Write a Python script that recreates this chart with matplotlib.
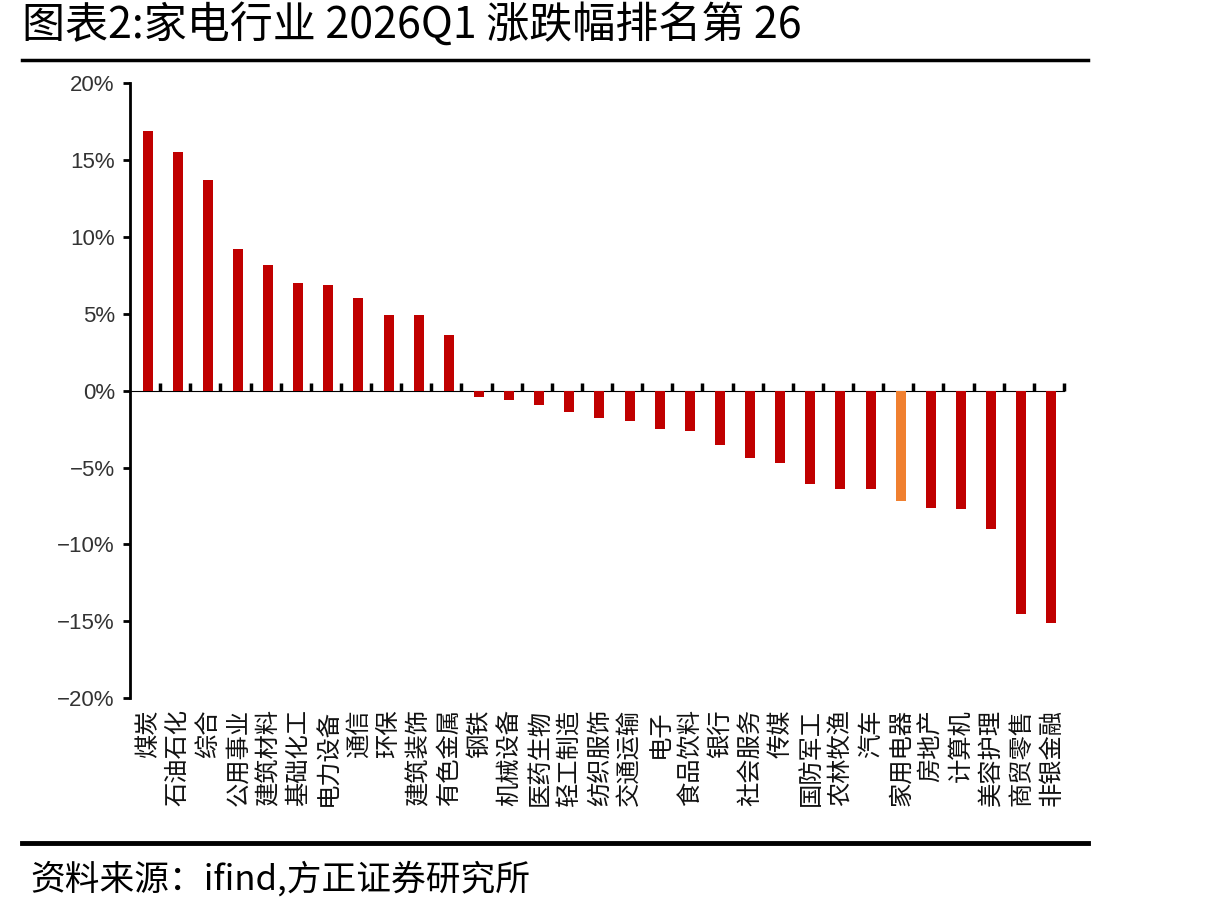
import matplotlib
matplotlib.use("Agg")
import matplotlib.pyplot as plt
import numpy as np
from matplotlib.ticker import FuncFormatter

plt.rcParams['font.family'] = ['Noto Sans CJK SC', 'DejaVu Sans']

categories = ["煤炭", "石油石化", "综合", "公用事业", "建筑材料", "基础化工", "电力设备",
              "通信", "环保", "建筑装饰", "有色金属", "钢铁", "机械设备", "医药生物",
              "轻工制造", "纺织服饰", "交通运输", "电子", "食品饮料", "银行", "社会服务",
              "传媒", "国防军工", "农林牧渔", "汽车", "家用电器", "房地产", "计算机",
              "美容护理", "商贸零售", "非银金融"]
changes = [16.9, 15.5, 13.7, 9.2, 8.2, 7.0, 6.9, 6.0, 4.9, 4.9, 3.6,
           -0.4, -0.6, -0.9, -1.4, -1.8, -1.95, -2.5, -2.6, -3.5, -4.4,
           -4.7, -6.1, -6.4, -6.4, -7.2, -7.6, -7.7, -9.0, -14.5, -15.1]
highlight = "家用电器"
yticks = [-20, -15, -10, -5, 0, 5, 10, 15, 20]

title = "图表2:家电行业 2026Q1 涨跌幅排名第 26"
source = "资料来源：ifind,方正证券研究所"

fig = plt.figure(figsize=(12.16, 9.15), dpi=100)
ax = fig.add_axes([0.107, 0.237, 0.768, 0.672])

x = np.arange(len(categories))
colors = ["#F08030" if c == highlight else "#C00000" for c in categories]
ax.bar(x + 0.08, changes, width=0.33, color=colors, zorder=2)

ax.set_xlim(-0.5, len(categories) - 0.5)
ax.set_ylim(-20, 20)
ax.set_yticks(yticks)
ax.yaxis.set_major_formatter(FuncFormatter(lambda v, p: f"{int(v)}%".replace("-", "\u2212")))
ax.tick_params(axis='y', direction='out', length=5, width=2, color='black',
               labelsize=16, labelcolor='#333333', pad=6)
for lab in ax.get_yticklabels():
    lab.set_family(['Liberation Sans', 'DejaVu Sans'])

for s in ['top', 'right', 'bottom']:
    ax.spines[s].set_visible(False)
ax.spines['left'].set_linewidth(2)

# category labels at bottom
ax.set_xticks(x + 0.08)
ax.set_xticklabels(categories, rotation=90, fontsize=17.5, va='top', ha='center')
ax.tick_params(axis='x', length=0, pad=8, labelcolor='#111111')

# zero axis with boundary ticks
sec = ax.secondary_xaxis(0.5)
sec.set_xticks(np.arange(0.5, len(categories), 1.0))
sec.set_xticklabels([])
sec.tick_params(axis='x', direction='out', length=6, width=2.5, color='black')
sec.spines['bottom'].set_linewidth(2.5)

fig.text(0.018, 0.972, title, fontsize=31, va='center', ha='left', color='black')
fig.add_artist(plt.Line2D([0.018, 0.895], [0.934, 0.934], color='black', lw=2.5,
                          transform=fig.transFigure))
fig.add_artist(plt.Line2D([0.018, 0.895], [0.079, 0.079], color='black', lw=3.5,
                          transform=fig.transFigure))
fig.text(0.025, 0.038, source, fontsize=25, va='center', ha='left', color='black',
         style='italic')

fig.savefig("out.png", dpi=100)
